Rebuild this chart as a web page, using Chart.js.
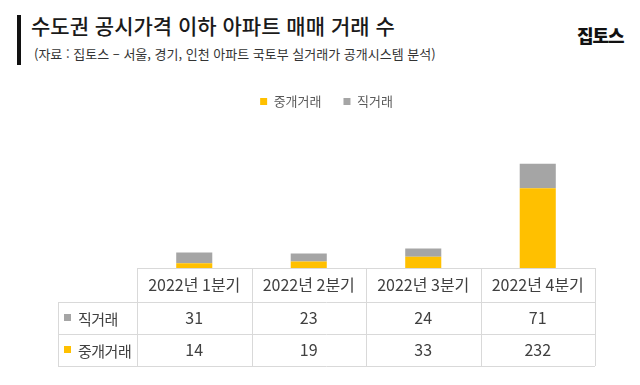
<!DOCTYPE html>
<html lang="ko">
<head>
<meta charset="utf-8">
<script src="https://cdn.jsdelivr.net/npm/chart.js@4/dist/chart.umd.min.js"></script>
<style>
  html, body { margin: 0; padding: 0; background: #fff; }
  body { width: 640px; height: 385px; position: relative; overflow: hidden; font-family: "Noto Sans CJK KR", "Noto Sans", sans-serif; }
  .bar { position: absolute; left: 17px; top: 15px; width: 4px; height: 50px; background: #111; }
  .title { position: absolute; left: 31px; top: 10px; font-size: 21px; line-height: 30px; font-weight: 500; color: #1a1a1a; white-space: nowrap; }
  .sub { position: absolute; left: 34px; top: 46px; font-size: 13px; line-height: 16px; color: #333; letter-spacing: 0; white-space: nowrap; }
  .logo { position: absolute; left: 577px; top: 23px; font-size: 18px; line-height: 24px; font-weight: 900; color: #111; letter-spacing: -1px; }
  #wrap { position: absolute; left: 0; top: 0; width: 640px; height: 385px; }
</style>
</head>
<body>
<div class="bar"></div>
<div class="title">수도권 공시가격 이하 아파트 매매 거래 수</div>
<div class="sub">(자료 : 집토스 – 서울, 경기, 인천 아파트 국토부 실거래가 공개시스템 분석)</div>
<div class="logo">집토스</div>
<div id="wrap"><canvas id="chart" width="640" height="385"></canvas></div>
<script>
const quarters = ['2022년 1분기', '2022년 2분기', '2022년 3분기', '2022년 4분기'];
const brokered = [14, 19, 33, 232];   // 중개거래
const direct = [31, 23, 24, 71];      // 직거래

const YELLOW = '#FFC000';
const GRAY = '#A5A5A5';
const FONT = '"Noto Sans CJK KR", "Noto Sans", sans-serif';

// data table under the bars, columns follow the x scale
const tablePlugin = {
    id: 'dataTable',
    afterDraw(chart) {
        const ctx = chart.ctx;
        const x = chart.scales.x;
        const area = chart.chartArea;
        const colW = (area.right - area.left) / quarters.length;
        const labelLeft = 58;
        const top = area.bottom;
        const rowH = [34, 32, 32];
        const y1 = top + rowH[0], y2 = y1 + rowH[1], y3 = y2 + rowH[2];

        ctx.save();
        ctx.strokeStyle = '#d9d9d9';
        ctx.lineWidth = 1;
        ctx.beginPath();
        // horizontal lines
        ctx.moveTo(area.left, top + 0.5); ctx.lineTo(area.right, top + 0.5);
        [y1, y2, y3].forEach(y => { ctx.moveTo(labelLeft, y + 0.5); ctx.lineTo(area.right, y + 0.5); });
        // vertical lines
        ctx.moveTo(labelLeft + 0.5, y1); ctx.lineTo(labelLeft + 0.5, y3);
        for (let i = 0; i <= quarters.length; i++) {
            const px = Math.round(area.left + i * colW) + 0.5;
            ctx.moveTo(px, top); ctx.lineTo(px, y3);
        }
        ctx.stroke();

        ctx.fillStyle = '#404040';
        ctx.textAlign = 'center';
        ctx.textBaseline = 'middle';
        ctx.font = '16px ' + FONT;
        quarters.forEach((q, i) => {
            const cx = x.getPixelForValue(i);
            ctx.fillText(q, cx, top + rowH[0] / 2);
            ctx.fillText(String(direct[i]), cx, y1 + rowH[1] / 2);
            ctx.fillText(String(brokered[i]), cx, y2 + rowH[2] / 2);
        });

        // row labels with colour keys
        const rows = [['직거래', GRAY, y1 + rowH[1] / 2], ['중개거래', YELLOW, y2 + rowH[2] / 2]];
        ctx.textAlign = 'left';
        ctx.font = '15px ' + FONT;
        ctx.letterSpacing = '-0.5px';
        rows.forEach(([txt, col, cy]) => {
            ctx.fillStyle = col;
            ctx.fillRect(64, cy - 4, 7, 7);
            ctx.fillStyle = '#404040';
            ctx.fillText(txt, 78, cy + 1);
        });
        ctx.restore();
    }
};

new Chart(document.getElementById('chart'), {
    type: 'bar',
    data: {
        labels: quarters,
        datasets: [
            { label: '중개거래', data: brokered, backgroundColor: YELLOW, categoryPercentage: 1, barPercentage: 0.315 },
            { label: '직거래', data: direct, backgroundColor: GRAY, categoryPercentage: 1, barPercentage: 0.315 }
        ]
    },
    options: {
        responsive: false,
        animation: false,
        events: [],
        layout: { padding: { top: 73, left: 58, right: 45, bottom: 117 } },
        plugins: {
            legend: {
                position: 'top',
                labels: {
                    boxWidth: 7, boxHeight: 7, padding: 22,
                    color: '#595959',
                    font: { family: FONT, size: 13 }
                }
            },
            tooltip: { enabled: false }
        },
        scales: {
            x: { stacked: true, display: false },
            y: {
                stacked: true, min: 0, max: 436,
                grid: { display: false },
                border: { display: false },
                ticks: { display: false },
                afterFit(scale) { scale.width = 79; }
            }
        }
    },
    plugins: [tablePlugin]
});
</script>
</body>
</html>
